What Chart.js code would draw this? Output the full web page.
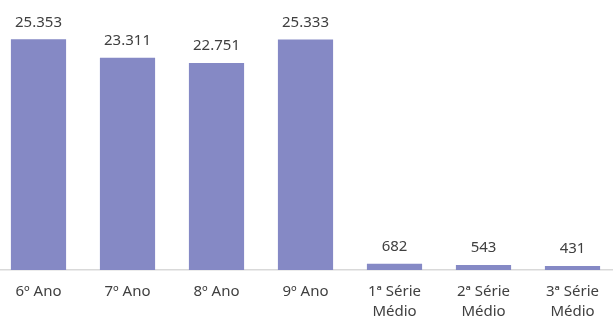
<!DOCTYPE html>
<html>
<head>
<meta charset="utf-8">
<script src="https://cdn.jsdelivr.net/npm/chart.js@4/dist/chart.umd.min.js"></script>
<style>
  html, body { margin: 0; padding: 0; background: #fff; overflow: hidden; }
  #wrap { position: absolute; left: -6px; top: -3px; width: 623px; height: 321px; }
</style>
</head>
<body>
<div id="wrap"><canvas id="c"></canvas></div>
<script>
const categories = [["6º Ano"], ["7º Ano"], ["8º Ano"], ["9º Ano"], ["1ª Série", "Médio"], ["2ª Série", "Médio"], ["3ª Série", "Médio"]];
const values = [25353, 23311, 22751, 25333, 682, 543, 431];
const yMax = 30000;

function fmt(n) {
  return String(n).replace(/\B(?=(\d{3})+(?!\d))/g, ".");
}

const FONT = "'Noto Sans', 'Open Sans', sans-serif";

const labelPlugin = {
  id: 'valueLabels',
  afterDatasetsDraw(chart) {
    const ctx = chart.ctx;
    const meta = chart.getDatasetMeta(0);
    ctx.save();
    ctx.font = "15px " + FONT;
    ctx.fillStyle = "#404040";
    ctx.textAlign = "center";
    ctx.textBaseline = "middle";
    meta.data.forEach((bar, i) => {
      ctx.fillText(fmt(values[i]), bar.x, bar.y - 17);
    });
    ctx.restore();
  }
};

new Chart(document.getElementById('c'), {
  type: 'bar',
  data: {
    labels: categories,
    datasets: [{
      data: values,
      backgroundColor: '#8589C5',
      borderWidth: 0,
      categoryPercentage: 1,
      barPercentage: 0.62
    }]
  },
  options: {
    responsive: true,
    maintainAspectRatio: false,
    animation: false,
    layout: { padding: 0 },
    plugins: { legend: { display: false }, tooltip: { enabled: false } },
    scales: {
      x: {
        grid: { display: false, drawTicks: false },
        border: { display: true, color: '#D9D9D9', width: 1.5 },
        ticks: {
          color: '#404040',
          font: { family: FONT, size: 15, lineHeight: 1.3 },
          padding: 12,
          maxRotation: 0,
          autoSkip: false
        },
        afterFit(scale) { scale.height = 48; }
      },
      y: {
        display: false,
        min: 0,
        max: yMax
      }
    }
  },
  plugins: [labelPlugin]
});
</script>
</body>
</html>
